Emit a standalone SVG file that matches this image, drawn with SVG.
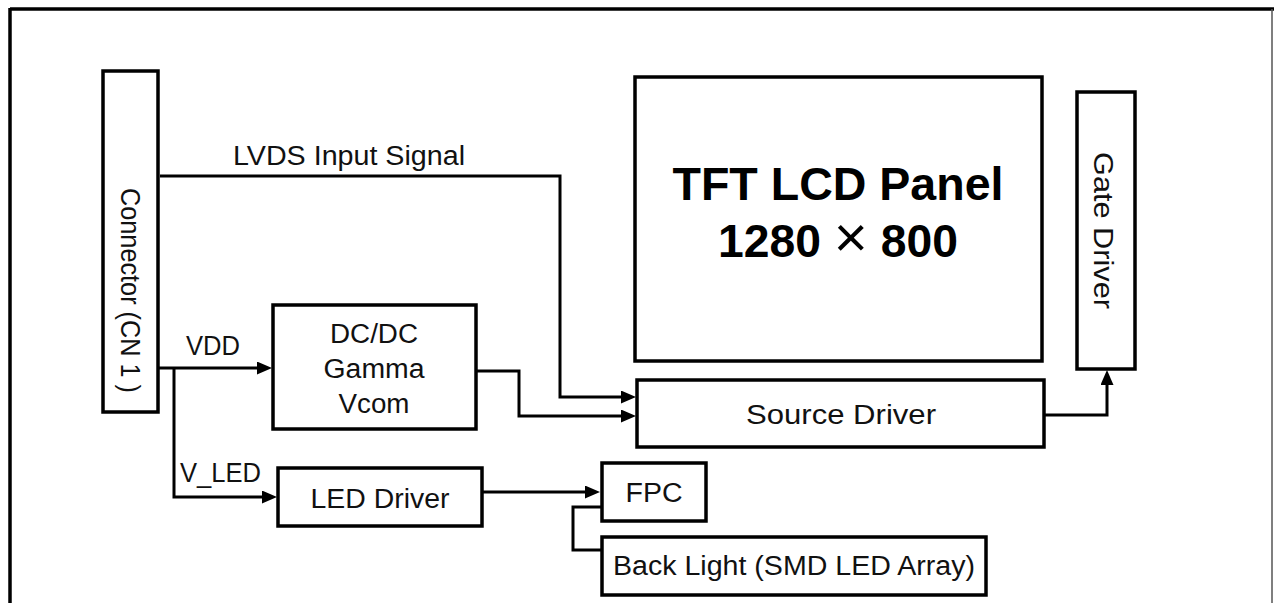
<svg xmlns="http://www.w3.org/2000/svg" width="1274" height="603" viewBox="0 0 1274 603">
<style>
  .box { fill: #ffffff; stroke: #000000; stroke-width: 3.5; }
  .wire { fill: none; stroke: #000000; stroke-width: 3; }
  .lbl { font-family: "Liberation Sans", Arial, sans-serif; font-size: 27px; fill: #111111; }
  .mid { text-anchor: middle; }
  .big { font-family: "Liberation Sans", Arial, sans-serif; font-size: 46px; font-weight: bold; fill: #000000; text-anchor: middle; }
</style>
<defs>
  <marker id="arr" viewBox="0 0 15 13" refX="7" refY="6.5" markerWidth="15" markerHeight="13" markerUnits="userSpaceOnUse" orient="auto">
    <path d="M0,0 L15,6.5 L0,13 Z" fill="#000000"/>
  </marker>
</defs>
<rect x="0" y="0" width="1274" height="603" fill="#ffffff"/>
<g id="frame">
  <line x1="10" y1="9" x2="1274" y2="9" stroke="#000000" stroke-width="3.5"/>
  <line x1="10" y1="8" x2="10" y2="603" stroke="#000000" stroke-width="3.5"/>
  <line x1="1272" y1="9" x2="1272" y2="603" stroke="#555555" stroke-width="1.5"/>
</g>
<g id="connectors">
  <path class="wire" d="M160,176 H560 V397 H628" marker-end="url(#arr)"/>
  <path class="wire" d="M475,371 H519 V416 H628" marker-end="url(#arr)"/>
  <path class="wire" d="M159,368 H264" marker-end="url(#arr)"/>
  <path class="wire" d="M174,368 V497 H269" marker-end="url(#arr)"/>
  <path class="wire" d="M483,492 H592" marker-end="url(#arr)"/>
  <path class="wire" d="M602,507 H573 V550 H602"/>
  <path class="wire" d="M1045,415 H1107 V378" marker-end="url(#arr)"/>
</g>
<g id="labels">
  <text class="lbl" x="233" y="165" textLength="232" lengthAdjust="spacingAndGlyphs">LVDS Input Signal</text>
  <text class="lbl" x="186" y="355" textLength="54" lengthAdjust="spacingAndGlyphs">VDD</text>
  <text class="lbl" x="180" y="482" textLength="81" lengthAdjust="spacingAndGlyphs">V_LED</text>
</g>
<g id="connector">
  <rect class="box" x="103" y="71" width="55" height="341"/>
  <text class="lbl" transform="translate(121,188) rotate(90)" textLength="205" lengthAdjust="spacingAndGlyphs">Connector (CN 1 )</text>
</g>
<g id="dcdc">
  <rect class="box" x="273" y="305" width="203" height="124"/>
  <text class="lbl mid" x="374" y="343" textLength="88" lengthAdjust="spacingAndGlyphs">DC/DC</text>
  <text class="lbl mid" x="374" y="378" textLength="101" lengthAdjust="spacingAndGlyphs">Gamma</text>
  <text class="lbl mid" x="374" y="413" textLength="71" lengthAdjust="spacingAndGlyphs">Vcom</text>
</g>
<g id="led-driver">
  <rect class="box" x="278" y="468" width="204" height="58"/>
  <text class="lbl mid" x="380" y="508" textLength="139" lengthAdjust="spacingAndGlyphs">LED Driver</text>
</g>
<g id="fpc">
  <rect class="box" x="602" y="463" width="104" height="58"/>
  <text class="lbl mid" x="654" y="502" textLength="57" lengthAdjust="spacingAndGlyphs">FPC</text>
</g>
<g id="backlight">
  <rect class="box" x="602" y="537" width="384" height="58"/>
  <text class="lbl mid" x="794" y="575" textLength="362" lengthAdjust="spacingAndGlyphs">Back Light (SMD LED Array)</text>
</g>
<g id="tft-panel">
  <rect class="box" x="635" y="77" width="407" height="284"/>
  <text class="big" x="838" y="200" textLength="331" lengthAdjust="spacingAndGlyphs">TFT LCD Panel</text>
  <text class="big" x="838" y="257" textLength="240" lengthAdjust="spacingAndGlyphs">1280 <tspan font-weight="normal" font-size="58">×</tspan> 800</text>
</g>
<g id="source-driver">
  <rect class="box" x="637" y="380" width="407" height="67"/>
  <text class="lbl mid" x="841" y="424" textLength="190" lengthAdjust="spacingAndGlyphs">Source Driver</text>
</g>
<g id="gate-driver">
  <rect class="box" x="1077" y="92" width="58" height="277"/>
  <text class="lbl" transform="translate(1094,152) rotate(90)" textLength="157" lengthAdjust="spacingAndGlyphs">Gate Driver</text>
</g>
</svg>
